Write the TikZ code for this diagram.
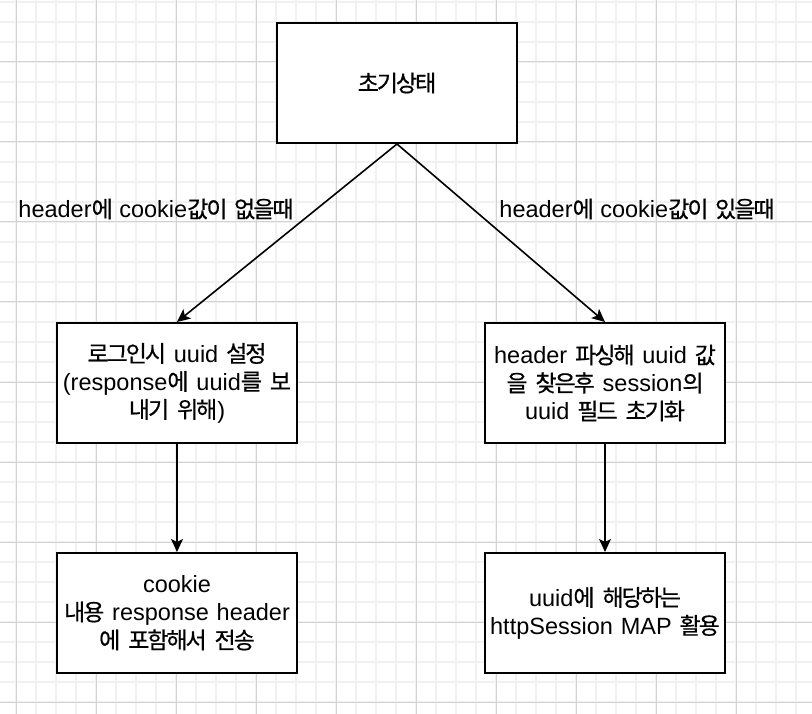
\documentclass[tikz,border=0pt]{standalone}
\usepackage{fontspec}
\setmainfont{Liberation Sans}
\newfontfamily\krfont{Noto Sans CJK KR}[Scale=0.98, LetterSpace=-9, FakeBold=0.6]
\newcommand{\hk}[1]{{\krfont #1}}
\usetikzlibrary{arrows.meta}
\definecolor{minorgrid}{HTML}{F1F1F1}
\definecolor{majorgrid}{HTML}{D3D3D3}
\tikzset{
  box/.style={draw=black, line width=2pt, fill=white, minimum width=240pt, minimum height=120pt, inner sep=0pt, align=center, text width=236pt, font=\fontsize{23.5}{28}\selectfont},
  lbl/.style={inner sep=0pt, font=\fontsize{23.5}{28}\selectfont},
  conn/.style={line width=1.6pt, -{Stealth[length=13pt, width=12pt, inset=3pt]}},
}
\begin{document}
\begin{tikzpicture}[x=1pt, y=-1pt]
\useasboundingbox (0,0) rectangle (812,714);
\fill[white] (0,0) rectangle (812,714);
\foreach \gx in {-4,16,...,812} \draw[minorgrid, line width=2pt] (\gx,0) -- (\gx,714);
\foreach \gy in {2,22,...,714} \draw[minorgrid, line width=2pt] (0,\gy) -- (812,\gy);
\foreach \gx in {16,96,...,812} \draw[majorgrid, line width=1pt] (\gx,0) -- (\gx,714);
\foreach \gy in {62,142,...,714} \draw[majorgrid, line width=1pt] (0,\gy) -- (812,\gy);

\node[box] (init) at (397,83) {\hk{초기상태}};
\node[box] (login) at (177,383) {\hk{로그인시} uuid \hk{설정}\\(response\hk{에} uuid\hk{를} \hk{보}\\\hk{내기} \hk{위해})};
\node[box] (parse) at (605,383) {header \hk{파싱해} uuid \hk{값}\\\hk{을} \hk{찾은후} session\hk{의}\\uuid \hk{필드} \hk{초기화}};
\node[box] (send) at (177,613) {cookie\\\hk{내용} response header\\\hk{에} \hk{포함해서} \hk{전송}};
\node[box] (use) at (605,613) {uuid\hk{에} \hk{해당하는}\\httpSession MAP \hk{활용}};

\node[lbl] (nolbl) at (156,209) {header\hk{에} cookie\hk{값이} \hk{없을때}};
\node[lbl] (yeslbl) at (637,209) {header\hk{에} cookie\hk{값이} \hk{있을때}};

\draw[conn] (init.south) -- (login.north);
\draw[conn] (init.south) -- (parse.north);
\draw[conn] (login.south) -- (send.north);
\draw[conn] (parse.south) -- (use.north);
\end{tikzpicture}
\end{document}
